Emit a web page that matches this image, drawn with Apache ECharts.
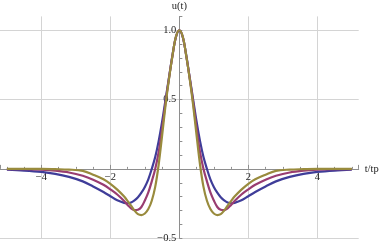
<!DOCTYPE html>
<html>
<head>
<meta charset="utf-8">
<script src="https://cdn.jsdelivr.net/npm/echarts@6/dist/echarts.min.js"></script>
<style>html,body{margin:0;padding:0;background:#fff;}#c{width:382px;height:244px;}</style>
</head>
<body>
<div id="c"></div>
<script>
// t/tp sample positions
const tValues = [-5, -4.5, -4, -3.6, -3.2, -2.8, -2.5, -2.2, -2.0, -1.8, -1.6, -1.5, -1.4, -1.3, -1.2, -1.1, -1.0, -0.9, -0.8, -0.7, -0.6, -0.5, -0.4, -0.3, -0.2, -0.1, 0,
                 0.1, 0.2, 0.3, 0.4, 0.5, 0.6, 0.7, 0.8, 0.9, 1.0, 1.1, 1.2, 1.3, 1.4, 1.5, 1.6, 1.8, 2.0, 2.2, 2.5, 2.8, 3.2, 3.6, 4, 4.5, 5];
// blue curve (widest)
const uBlue = [-0.006, -0.012, -0.022, -0.036, -0.058, -0.09, -0.127, -0.167, -0.197, -0.227, -0.245, -0.248, -0.243, -0.228, -0.205, -0.172, -0.13, -0.075, 0.0, 0.085, 0.20, 0.34, 0.50, 0.66, 0.82, 0.95, 1.0,
               0.95, 0.82, 0.66, 0.50, 0.34, 0.20, 0.085, 0.0, -0.075, -0.13, -0.172, -0.205, -0.228, -0.243, -0.248, -0.245, -0.227, -0.197, -0.167, -0.127, -0.09, -0.058, -0.036, -0.022, -0.012, -0.006];
// purple curve (middle)
const uPurple = [-0.001, -0.002, -0.006, -0.013, -0.026, -0.05, -0.078, -0.115, -0.148, -0.185, -0.232, -0.26, -0.285, -0.298, -0.295, -0.275, -0.228, -0.17, -0.09, 0.0, 0.12, 0.29, 0.48, 0.655, 0.815, 0.952, 1.0,
                 0.952, 0.815, 0.655, 0.48, 0.29, 0.12, 0.0, -0.09, -0.17, -0.228, -0.275, -0.295, -0.298, -0.285, -0.26, -0.232, -0.185, -0.148, -0.115, -0.078, -0.05, -0.026, -0.013, -0.006, -0.002, -0.001];
// olive curve (narrowest)
const uOlive = [0, 0, 0, -0.002, -0.005, -0.014, -0.042, -0.075, -0.108, -0.15, -0.20, -0.232, -0.265, -0.30, -0.326, -0.333, -0.322, -0.29, -0.23, -0.13, 0.03, 0.24, 0.46, 0.65, 0.815, 0.953, 1.0,
                0.953, 0.815, 0.65, 0.46, 0.24, 0.03, -0.13, -0.23, -0.29, -0.322, -0.333, -0.326, -0.30, -0.265, -0.232, -0.20, -0.15, -0.108, -0.075, -0.042, -0.014, -0.005, -0.002, 0, 0, 0];
const xLabels = [-4, -2, 2, 4];
const yLabels = [-0.5, 0.5, 1.0];

function pairs(ys) { return tValues.map((t, i) => [t, ys[i]]); }
const fontFam = '"Liberation Serif", "DejaVu Serif", serif';
const axisGray = '#8e8e8e';
const gridGray = '#d4d4d4';

const W = 382, H = 244;
const G = {left: 0, right: 23.3, top: 16.4, bottom: 5.8};
const X_MIN = -5.2, X_MAX = 5.2, Y_MIN = -0.5, Y_MAX = 1.1;
// place the axes through the origin (axis offsets derived from the scales)
const plotW = W - G.left - G.right, plotH = H - G.top - G.bottom;
const xAxisOffset = -(plotH * (0 - Y_MIN) / (Y_MAX - Y_MIN));
const yAxisOffset = -(plotW * (0 - X_MIN) / (X_MAX - X_MIN));

const chart = echarts.init(document.getElementById('c'), null, {renderer: 'canvas'});
chart.setOption({
  animation: false,
  backgroundColor: '#ffffff',
  grid: Object.assign({containLabel: false, outerBoundsMode: 'none'}, G),
  xAxis: {
    type: 'value', min: X_MIN, max: X_MAX, splitNumber: 5, position: 'bottom', offset: xAxisOffset,
    name: 't/tp', nameLocation: 'end', nameGap: 6,
    nameTextStyle: {fontFamily: fontFam, fontSize: 10.5, color: '#222', verticalAlign: 'middle'},
    axisLine: {onZero: false, lineStyle: {color: axisGray, width: 1}},
    axisTick: {inside: true, length: 4, lineStyle: {color: axisGray}},
    minorTick: {show: true, splitNumber: 4, length: 2, lineStyle: {color: axisGray}},
    axisLabel: {
      margin: 3, fontFamily: fontFam, fontSize: 10.5, color: '#222',
      showMinLabel: false, showMaxLabel: false,
      formatter: v => xLabels.some(l => Math.abs(l - v) < 1e-6) ? String(v).replace('-', '\u2212') : ''
    },
    splitLine: {show: true, showMinLine: false, showMaxLine: false, lineStyle: {color: gridGray, width: 1}}
  },
  yAxis: [{
    type: 'value', min: Y_MIN, max: Y_MAX, interval: 0.1, position: 'left', offset: yAxisOffset,
    name: 'u(t)', nameLocation: 'end', nameGap: 5,
    nameTextStyle: {fontFamily: fontFam, fontSize: 10.5, color: '#222', align: 'center'},
    axisLine: {onZero: false, lineStyle: {color: axisGray, width: 1}},
    axisTick: {inside: true, length: 3, lineStyle: {color: axisGray}},
    axisLabel: {
      margin: 3, fontFamily: fontFam, fontSize: 10.5, color: '#222',
      formatter: v => {
        const hit = yLabels.find(l => Math.abs(l - v) < 1e-6);
        return hit === undefined ? '' : hit.toFixed(1).replace('-', '\u2212');
      }
    },
    splitLine: {show: false}
  }, {
    type: 'value', min: Y_MIN, max: Y_MAX, interval: 0.5, position: 'right',
    axisLine: {show: false, onZero: false}, axisTick: {show: false}, axisLabel: {show: false},
    splitLine: {show: true, showMinLine: true, showMaxLine: false, lineStyle: {color: gridGray, width: 1}}
  }],
  series: [
    {type: 'line', data: pairs(uBlue), showSymbol: false, smooth: 0.35, lineStyle: {color: '#3f3d99', width: 2.2}, z: 3},
    {type: 'line', data: pairs(uPurple), showSymbol: false, smooth: 0.35, lineStyle: {color: '#993d71', width: 2.2}, z: 4},
    {type: 'line', data: pairs(uOlive), showSymbol: false, smooth: 0.35, lineStyle: {color: '#998b3d', width: 2.2}, z: 5}
  ]
});
</script>
</body>
</html>
